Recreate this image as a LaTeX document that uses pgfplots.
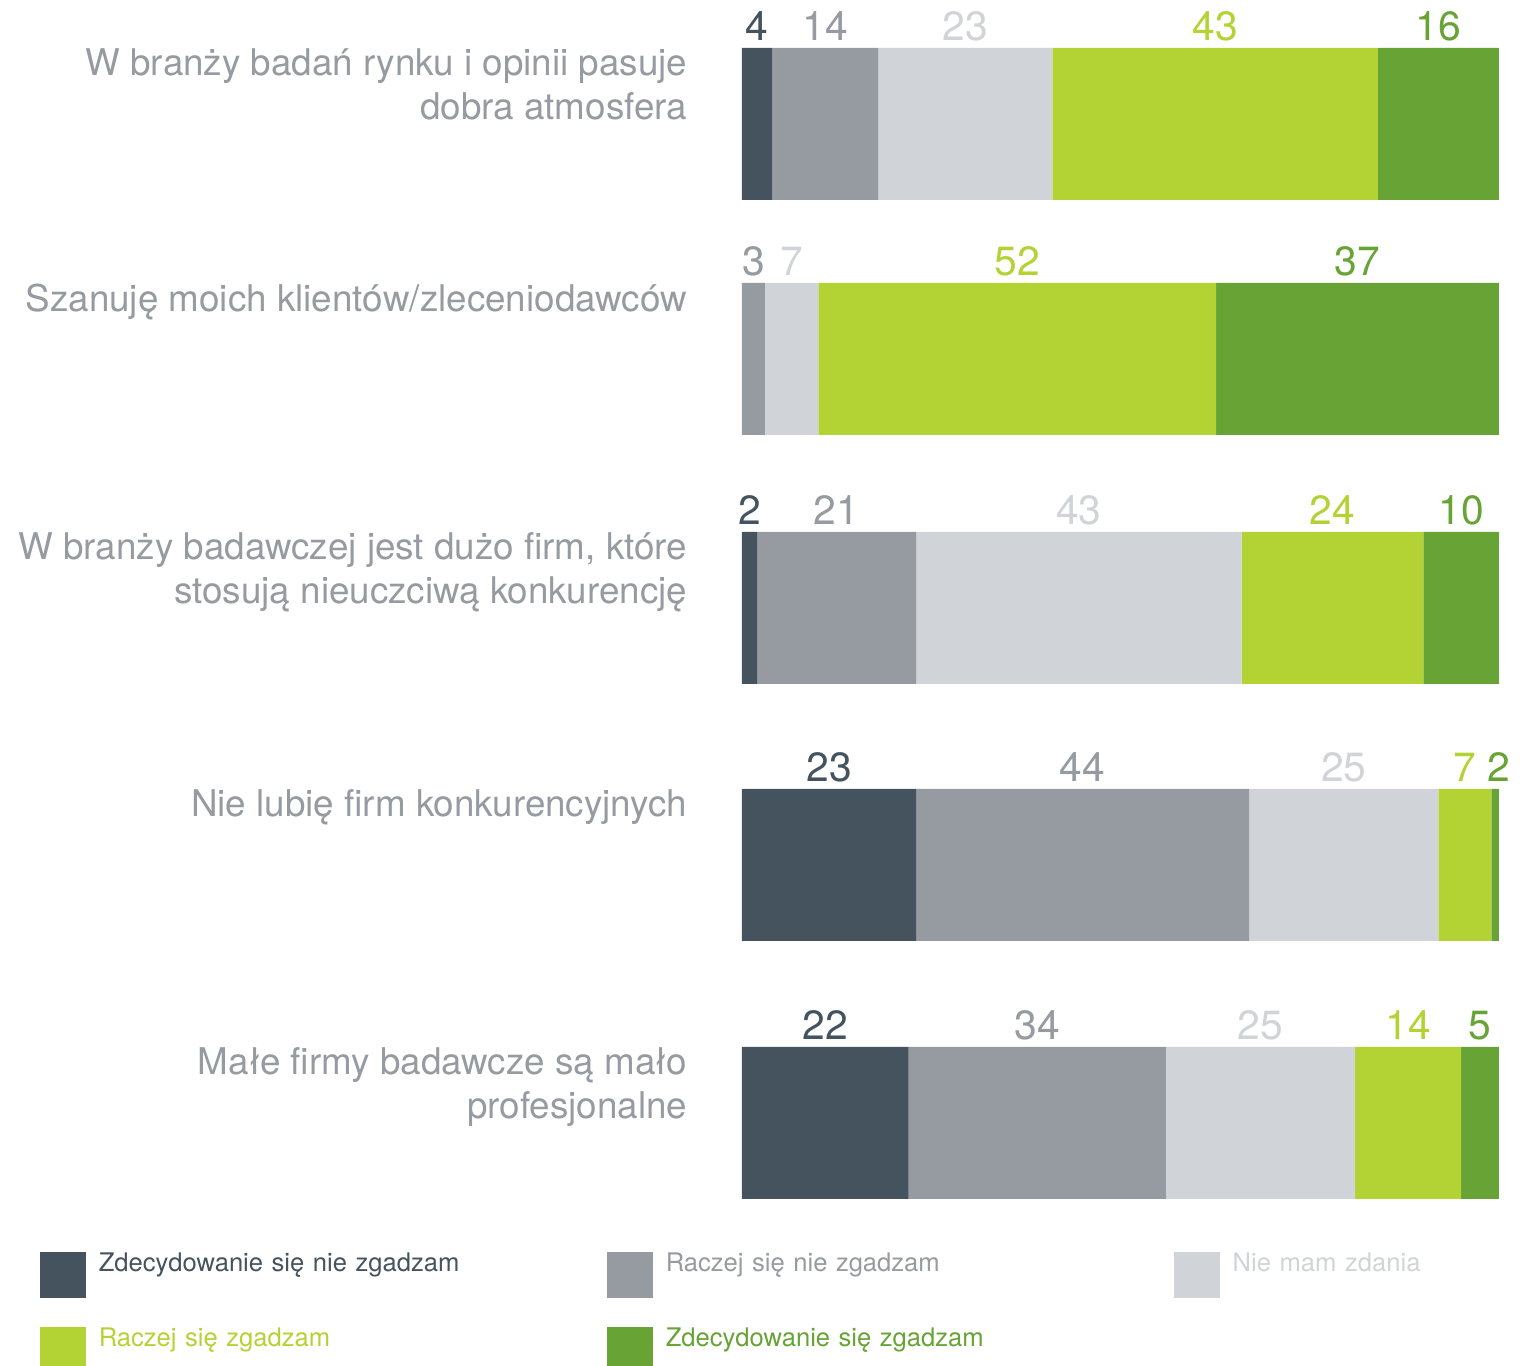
\documentclass[border=0pt]{standalone}
\usepackage{pgfplots}
\usepackage{pgfplotstable}
\pgfplotsset{compat=1.18}
\usepackage{fontspec}
\setmainfont{TeX Gyre Heros}

\definecolor{c1}{HTML}{44535E}
\definecolor{c2}{HTML}{959BA1}
\definecolor{c3}{HTML}{D0D3D7}
\definecolor{c4}{HTML}{B3D334}
\definecolor{c5}{HTML}{67A335}
\definecolor{txt}{HTML}{959BA1}

% y = bar centre (px from top), a..e = answers in per cent
\pgfplotstableread{
y    a  b  c  d  e
124  4  14 23 43 16
359  0  3  7  52 37
608  2  21 43 24 10
865  23 44 25 7  2
1123 22 34 25 14 5
}\shares

% rows summing below 100 are stretched to fill the bar, longer ones clipped
\newcommand\tot{min(\thisrow{a}+\thisrow{b}+\thisrow{c}+\thisrow{d}+\thisrow{e},100)}

\pgfplotsset{
  panel/.style={scale only axis, width=189.25pt, height=287.75pt,
    xmin=0, xmax=100, ymin=48, ymax=1199, y dir=reverse},
  lbl/.style={every node near coord/.append style={text=#1}},
}

\begin{document}
\begin{tikzpicture}
\begin{axis}[panel,
    xbar stacked, bar width=152,
    clip mode=individual,
    axis line style={draw=none}, tick style={draw=none},
    xtick=\empty,
    ytick=data,
    yticklabels={{W branży badań rynku i opinii pasuje\\dobra atmosfera},
      {Szanuję moich klientów/zleceniodawców},
      {W branży badawczej jest dużo firm, które\\stosują nieuczciwą konkurencję},
      {Nie lubię firm konkurencyjnych},
      {Małe firmy badawcze są mało\\profesjonalne}},
    yticklabel style={align=right, anchor=north east, inner sep=0pt,
      xshift=-13.5pt, yshift=19pt, text=txt, font=\fontsize{9.2}{11}\selectfont},
    legend columns=3,
    legend image code/.code={\fill[#1] (0pt,-6.5pt) rectangle (11.5pt,5pt); \path (14.75pt,0pt);},
    legend style={at={(-0.9287,-0.0452)}, anchor=north west, draw=none, fill=none,
      inner sep=0pt, row sep=7.25pt, font=\fontsize{6.4}{7.6}\selectfont,
      cells={anchor=base west},
      nodes={inner sep=0pt, text depth=0pt, text width=127pt, align=left}},
]
\addplot[fill=c1, draw=none] table[x expr=\thisrow{a}*100/\tot, y=y] {\shares};
\addlegendentry{\textcolor{c1}{Zdecydowanie się nie zgadzam}}
\addplot[fill=c2, draw=none] table[x expr=\thisrow{b}*100/\tot, y=y] {\shares};
\addlegendentry{\textcolor{c2}{Raczej się nie zgadzam}}
\addplot[fill=c3, draw=none] table[x expr=\thisrow{c}*100/\tot, y=y] {\shares};
\addlegendentry{\textcolor{c3}{Nie mam zdania}}
\addplot[fill=c4, draw=none] table[x expr=\thisrow{d}*100/\tot, y=y] {\shares};
\addlegendentry{\textcolor{c4}{Raczej się zgadzam}}
\addplot[fill=c5, draw=none] table[x expr=\thisrow{e}*100/\tot, y=y] {\shares};
\addlegendentry{\textcolor{c5}{Zdecydowanie się zgadzam}}
% page frame of the original figure
\coordinate (bbsw) at (axis cs:-98.02,1366);
\coordinate (bbne) at (axis cs:104.1,0);
\end{axis}

% value labels above the middle of each segment
\begin{axis}[panel, hide axis, clip=false,
    only marks, mark=*, mark size=0pt, mark options={draw=none, fill=none},
    nodes near coords, point meta=explicit symbolic,
    every node near coord/.append style={anchor=base, inner sep=0pt,
      font=\fontsize{10.2}{12}\selectfont},
]
\addplot[lbl=c1, restrict expr to domain={\thisrow{a}}{0.5:200}]
  table[x expr=0.5*\thisrow{a}*100/\tot, y expr=\thisrow{y}-83, meta=a] {\shares};
\addplot[lbl=c2]
  table[x expr=(\thisrow{a}+0.5*\thisrow{b})*100/\tot, y expr=\thisrow{y}-83, meta=b] {\shares};
\addplot[lbl=c3]
  table[x expr=(\thisrow{a}+\thisrow{b}+0.5*\thisrow{c})*100/\tot, y expr=\thisrow{y}-83, meta=c] {\shares};
\addplot[lbl=c4]
  table[x expr=(\thisrow{a}+\thisrow{b}+\thisrow{c}+0.5*\thisrow{d})*100/\tot, y expr=\thisrow{y}-83, meta=d] {\shares};
\addplot[lbl=c5]
  table[x expr=(\thisrow{a}+\thisrow{b}+\thisrow{c}+\thisrow{d}+0.5*\thisrow{e})*100/\tot, y expr=\thisrow{y}-83, meta=e] {\shares};
\end{axis}
\pgfresetboundingbox
\path (bbsw) rectangle (bbne);
\end{tikzpicture}
\end{document}
